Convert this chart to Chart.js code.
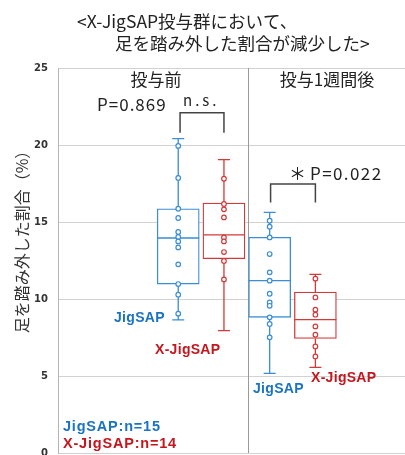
<!DOCTYPE html>
<html>
<head>
<meta charset="utf-8">
<script src="https://cdn.jsdelivr.net/npm/chart.js@4/dist/chart.umd.min.js"></script>
<style>
  html, body { margin: 0; padding: 0; background: #fff; }
  #wrap { width: 405px; height: 455px; }
</style>
</head>
<body>
<div id="wrap"><canvas id="chart" width="405" height="455"></canvas></div>
<script>
// groups and series
const groups = ["投与前", "投与1週間後"];
const series = ["JigSAP", "X-JigSAP"];
const counts = [15, 14];

// individual points (%)
const jigPre = [19.94, 17.86, 15.86, 15.26, 14.35, 14.03, 13.74, 13.35, 12.25, 10.97, 10.28, 9.05];
const xjigPre = [17.81, 16.17, 15.82, 15.3, 14.0, 13.74, 13.05, 12.47, 11.27];
const jigPost = [15.08, 14.69, 14.0, 12.92, 11.73, 11.19, 10.34, 9.78, 9.56, 8.81, 8.38, 7.51];
const xjigPost = [11.32, 10.1, 9.31, 8.98, 8.22, 7.68, 6.92, 6.27];

// box stats: [min, q1, median, q3, max]
const jigPreBox = [8.64, 10.97, 13.96, 15.86, 20.41];
const xjigPreBox = [7.94, 12.62, 14.16, 16.23, 19.05];
const jigPostBox = [5.17, 8.81, 11.19, 14.0, 15.62];
const xjigPostBox = [5.56, 7.44, 8.66, 10.45, 11.6];

// p values
const pValues = ["0.869", "0.022"];

const yTicks = [0, 5, 10, 15, 20, 25];

// layout on the x axis
const slot = { jigPre: 1, xjigPre: 2, jigPost: 3, xjigPost: 4 };
const divider = 2.53;

const blue = "#3a8dd6";
const red = "#d23a3a";
const blueText = "#1a73c3";
const redText = "#c5161d";

const pts = (arr, x) => arr.map((v) => ({ x: x, y: v }));

const boxPlugin = {
  id: "boxes",
  afterDatasetDraw(chart, args) {
    if (args.meta.type !== "bar") return;
    const ctx = chart.ctx;
    const ys = chart.scales.y;
    const ds = chart.data.datasets[args.index];
    args.meta.data.forEach((bar, i) => {
      const st = ds.stats[i];
      const p = bar.getProps(["x", "width"], true);
      const half = p.width / 2;
      ctx.save();
      ctx.strokeStyle = ds.borderColor;
      ctx.lineWidth = 1.3;
      ctx.beginPath();
      // median
      ctx.moveTo(p.x - half, ys.getPixelForValue(st[2]));
      ctx.lineTo(p.x + half, ys.getPixelForValue(st[2]));
      // whiskers
      ctx.moveTo(p.x, ys.getPixelForValue(st[3]));
      ctx.lineTo(p.x, ys.getPixelForValue(st[4]));
      ctx.moveTo(p.x, ys.getPixelForValue(st[1]));
      ctx.lineTo(p.x, ys.getPixelForValue(st[0]));
      // caps
      ctx.moveTo(p.x - 6, ys.getPixelForValue(st[4]));
      ctx.lineTo(p.x + 6, ys.getPixelForValue(st[4]));
      ctx.moveTo(p.x - 6, ys.getPixelForValue(st[0]));
      ctx.lineTo(p.x + 6, ys.getPixelForValue(st[0]));
      ctx.stroke();
      ctx.restore();
    });
  },
  beforeDatasetsDraw(chart) {
    const ctx = chart.ctx;
    const a = chart.chartArea;
    const dx = chart.scales.x.getPixelForValue(divider);
    ctx.save();
    ctx.strokeStyle = "#9a9a9a";
    ctx.lineWidth = 1;
    ctx.beginPath();
    ctx.moveTo(Math.round(dx) + 0.5, a.top);
    ctx.lineTo(Math.round(dx) + 0.5, a.bottom);
    ctx.stroke();
    ctx.restore();
  },
  afterDraw(chart) {
    const ctx = chart.ctx;
    const xs = chart.scales.x;
    const ys = chart.scales.y;
    const jp = "'Noto Sans CJK JP', sans-serif";
    const lat = "'Liberation Sans', Arial, sans-serif";
    ctx.save();
    ctx.textBaseline = "middle";

    // title
    ctx.fillStyle = "#222";
    ctx.font = "17.5px " + jp;
    ctx.textAlign = "left";
    ctx.fillText("<X-JigSAP投与群において、", 77, 21);
    ctx.fillText("足を踏み外した割合が減少した>", 115, 43);

    // y title
    ctx.save();
    ctx.translate(22, 238);
    ctx.rotate(-Math.PI / 2);
    ctx.textAlign = "center";
    ctx.font = "16px " + jp;
    ctx.fillStyle = "#333";
    ctx.fillText("足を踏み外した割合（%）", 0, 0);
    ctx.restore();

    // group headers
    ctx.textAlign = "center";
    ctx.font = "17px " + jp;
    ctx.fillStyle = "#222";
    ctx.fillText(groups[0], 156, 80);
    ctx.fillText(groups[1], 327, 80);

    // brackets
    const bracket = (x1, x2, yTop, yLeg) => {
      const px1 = xs.getPixelForValue(x1);
      const px2 = xs.getPixelForValue(x2);
      const pt = ys.getPixelForValue(yTop);
      const pl = ys.getPixelForValue(yLeg);
      ctx.strokeStyle = "#444";
      ctx.lineWidth = 1.5;
      ctx.beginPath();
      ctx.moveTo(px1, pl);
      ctx.lineTo(px1, pt);
      ctx.lineTo(px2, pt);
      ctx.lineTo(px2, pl);
      ctx.stroke();
    };
    bracket(slot.jigPre + 0.04, slot.xjigPre, 22.1, 20.8);
    bracket(slot.jigPost + 0.02, slot.xjigPost, 17.47, 16.27);

    ctx.fillStyle = "#222";
    ctx.textAlign = "left";
    ctx.font = "17px " + jp;
    ctx.letterSpacing = "1px";
    ctx.fillText("P=" + pValues[0], 97, 105);
    ctx.font = "15px " + jp;
    ctx.letterSpacing = "3px";
    ctx.fillText("n.s.", 183, 100);
    ctx.font = "17px " + jp;
    ctx.letterSpacing = "0px";
    ctx.fillText("＊", 289, 174);
    ctx.letterSpacing = "1.4px";
    ctx.fillText("P=" + pValues[1], 310, 174);

    // series labels
    ctx.font = "bold 14px " + lat;
    ctx.letterSpacing = "0.3px";
    ctx.fillStyle = blueText;
    ctx.fillText(series[0], 114, 318);
    ctx.fillText(series[0], 253, 389);
    ctx.fillStyle = redText;
    ctx.fillText(series[1], 155, 350);
    ctx.fillText(series[1], 311, 378);

    // n labels
    ctx.font = "bold 14.5px " + lat;
    ctx.letterSpacing = "0.8px";
    ctx.fillStyle = blueText;
    ctx.fillText(series[0] + ":n=" + counts[0], 63, 427);
    ctx.fillStyle = redText;
    ctx.fillText(series[1] + ":n=" + counts[1], 63, 444);
    ctx.restore();
  },
};

const pointStyle = (color) => ({
  type: "scatter",
  showLine: false,
  pointRadius: 2.3,
  pointBorderWidth: 1.2,
  pointBackgroundColor: "#fff",
  pointBorderColor: color,
  order: 1,
});

new Chart(document.getElementById("chart"), {
  type: "bar",
  data: {
    datasets: [
      Object.assign({ data: pts(jigPre, slot.jigPre) }, pointStyle(blue)),
      Object.assign({ data: pts(xjigPre, slot.xjigPre) }, pointStyle(red)),
      Object.assign({ data: pts(jigPost, slot.jigPost) }, pointStyle(blue)),
      Object.assign({ data: pts(xjigPost, slot.xjigPost) }, pointStyle(red)),
      {
        type: "bar",
        label: series[0],
        data: [
          { x: slot.jigPre, y: [jigPreBox[1], jigPreBox[3]] },
          { x: slot.jigPost, y: [jigPostBox[1], jigPostBox[3]] },
        ],
        stats: [jigPreBox, jigPostBox],
        backgroundColor: "#fff",
        borderColor: blue,
        borderWidth: 1.3,
        borderSkipped: false,
        barThickness: 42,
        grouped: false,
        order: 3,
      },
      {
        type: "bar",
        label: series[1],
        data: [
          { x: slot.xjigPre, y: [xjigPreBox[1], xjigPreBox[3]] },
          { x: slot.xjigPost, y: [xjigPostBox[1], xjigPostBox[3]] },
        ],
        stats: [xjigPreBox, xjigPostBox],
        backgroundColor: "#fff",
        borderColor: red,
        borderWidth: 1.3,
        borderSkipped: false,
        barThickness: 42,
        grouped: false,
        order: 3,
      },
    ],
  },
  options: {
    responsive: false,
    animation: false,
    layout: { autoPadding: false, padding: { top: 68, bottom: 2, left: 0, right: 0 } },
    plugins: {
      legend: { display: false },
      tooltip: { enabled: false },
    },
    scales: {
      x: {
        type: "linear",
        display: false,
        offset: false,
        min: -1.63,
        max: 5.96,
      },
      y: {
        min: yTicks[0],
        max: yTicks[yTicks.length - 1],
        afterBuildTicks: (scale) => {
          scale.ticks = yTicks.map((v) => ({ value: v }));
        },
        afterFit: (scale) => {
          scale.width = 58;
          scale.paddingTop = 0;
          scale.paddingBottom = 0;
        },
        grid: { color: "#d2d2d2", drawTicks: false },
        border: { color: "#b5b5b5" },
        ticks: {
          padding: 10,
          color: "#333",
          font: { family: "'DejaVu Sans', sans-serif", size: 10, weight: "bold" },
        },
      },
    },
  },
  plugins: [boxPlugin],
});
</script>
</body>
</html>
